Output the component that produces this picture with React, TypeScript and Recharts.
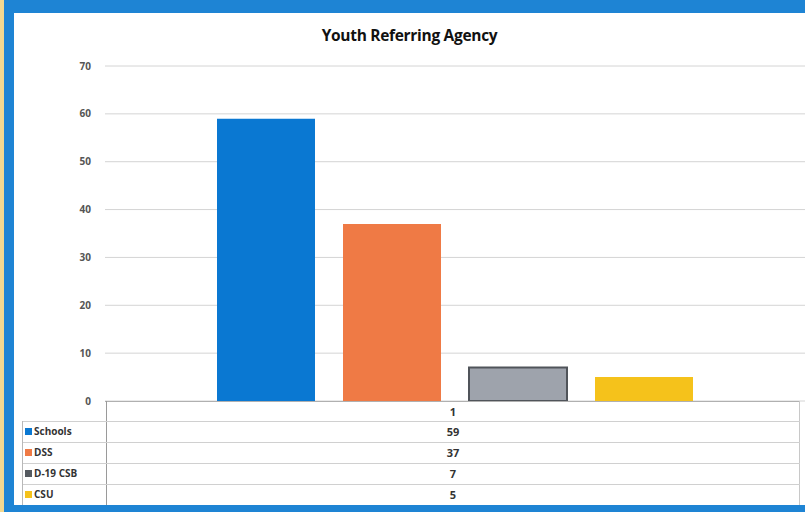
import React from "react";
import { BarChart, Bar, XAxis, YAxis, CartesianGrid } from "recharts";

const categories = ["1"];
const seriesNames = ["Schools", "DSS", "D-19 CSB", "CSU"];
const seriesValues = [59, 37, 7, 5];
const seriesColors = ["#0a78d2", "#ef7a45", "#9ea3ac", "#f5c21b"];
const seriesStrokes = ["#0a78d2", "#ef7a45", "#50545a", "#f5c21b"];
const keyColors = ["#0a78d2", "#ef7a45", "#555a60", "#f5c21b"];
const yTicks = [0, 10, 20, 30, 40, 50, 60, 70];
const title = "Youth Referring Agency";

const data = categories.map((c) => {
  const row: Record<string, string | number> = { name: c };
  seriesNames.forEach((s, i) => (row[s] = seriesValues[i]));
  return row;
});

const FONT = "'Open Sans', 'DejaVu Sans', sans-serif";

export default function App() {
  const rowTops = [403, 421, 442, 463, 484];
  const rowH = [18, 21, 21, 21, 21];
  return (
    <div style={{ position: "absolute", left: 0, top: 0, width: 805, height: 512, background: "#1e84d4", overflow: "hidden", fontFamily: FONT }}>
      <div style={{ position: "absolute", left: 0, top: 0, width: 4, height: 512, background: "#f2d890" }} />
      <div style={{ position: "absolute", left: 14, top: 13, width: 791, height: 492, background: "#ffffff" }} />
      <div style={{ position: "absolute", left: 14, top: 24, width: 791, textAlign: "center", fontSize: 15.5, fontWeight: 700, color: "#111", letterSpacing: -0.3 }}>
        {title}
      </div>
      <div style={{ position: "absolute", left: 14, top: 13 }}>
        <BarChart width={791} height={400} data={data} margin={{ top: 53, right: 0, bottom: 12, left: 0 }} barCategoryGap="16%" barGap={28}>
          <CartesianGrid vertical={false} stroke="#d4d4d4" />
          <XAxis dataKey="name" hide />
          <YAxis
            width={91}
            domain={[0, 70]}
            ticks={yTicks}
            interval={0}
            axisLine={false}
            tickLine={false}
            tickMargin={8}
            tick={{ fontSize: 10, fontWeight: 700, fill: "#555", fontFamily: FONT }}
          />
          {seriesNames.map((s, i) => (
            <Bar key={s} dataKey={s} fill={seriesColors[i]} stroke={seriesStrokes[i]} strokeWidth={i === 2 ? 2 : 0} isAnimationActive={false} />
          ))}
        </BarChart>
      </div>
      {/* data table */}
      <div style={{ position: "absolute", left: 14, top: 405, width: 791, height: 100, background: "#ffffff" }} />
      <div style={{ position: "absolute", left: 105, top: 401, width: 695, height: 1, background: "#b0b0b0" }} />
      <div style={{ position: "absolute", left: 106, top: 401, width: 1, height: 104, background: "#9a9a9a" }} />
      <div style={{ position: "absolute", left: 799, top: 401, width: 1, height: 104, background: "#c8c8c8" }} />
      {rowTops.slice(1).map((t, i) => (
        <div key={"l" + i} style={{ position: "absolute", left: 22, top: t, width: 778, height: 1, background: "#d0d0d0" }} />
      ))}
      <div style={{ position: "absolute", left: 22, top: 421, width: 1, height: 84, background: "#b8b8b8" }} />
      {[categories[0], ...seriesValues.map(String)].map((v, i) => (
        <div key={"v" + i} style={{ position: "absolute", left: 106, top: rowTops[i], width: 694, height: rowH[i], lineHeight: rowH[i] + "px", textAlign: "center", fontSize: 11, fontWeight: 700, color: "#333" }}>
          {v}
        </div>
      ))}
      {seriesNames.map((s, i) => (
        <div key={"k" + i} style={{ position: "absolute", left: 25, top: rowTops[i + 1], height: rowH[i + 1], lineHeight: rowH[i + 1] + "px", fontSize: 10, fontWeight: 700, color: "#333", display: "flex", alignItems: "center" }}>
          <span style={{ display: "inline-block", width: 7, height: 7, background: keyColors[i], marginRight: 2 }} />
          {s}
        </div>
      ))}
    </div>
  );
}
